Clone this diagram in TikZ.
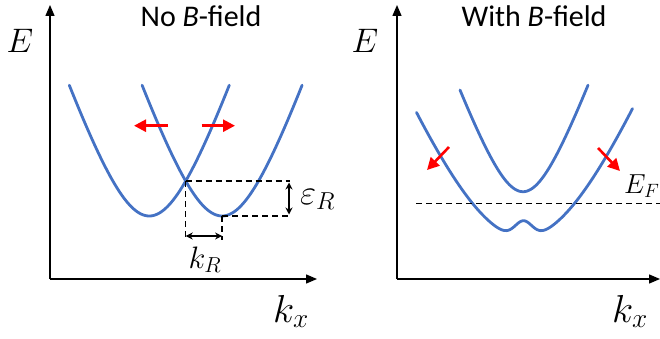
\RequirePackage{fix-cm}
\documentclass[tikz,border=0pt]{standalone}
\usepackage{fontspec}
\newfontfamily\calib{Carlito}
\usetikzlibrary{arrows.meta}
\definecolor{bandblue}{RGB}{68,114,196}
\tikzset{
  band/.style={draw=bandblue, line width=2.8pt, line cap=round},
  axis/.style={draw=black, line width=1.4pt, -{Triangle[length=11pt,width=9pt]}},
  redarr/.style={draw=red, line width=2.6pt, -{Triangle[length=12pt,width=12pt]}},
  dashline/.style={draw=black, line width=1.5pt, dash pattern=on 6pt off 4pt},
  dimarr/.style={draw=black, line width=1.4pt, {Stealth[length=7pt,width=7pt]}-{Stealth[length=7pt,width=7pt]}},
  ttl/.style={inner sep=0pt, anchor=base, font=\calib\fontsize{30}{36}\selectfont},
  lbl/.style={inner sep=0pt, anchor=base},
}
\begin{document}
\begin{tikzpicture}[x=1pt,y=-1pt]
\useasboundingbox (0,0) rectangle (660,339);
% ---------- left panel ----------
\coordinate (lo) at (50,279);
\coordinate (ly) at (50,5);
\coordinate (lx) at (317,279);
\draw[axis] (lo) -- (ly);
\draw[axis] (lo) -- (lx);
\node[ttl] (t1) at (201,26.7) {No \textit{B}-field};
\node[lbl] (E1) at (20,53) {\fontsize{34}{40}\selectfont$E$};
\node[lbl] (kx1) at (291,322) {\fontsize{39}{44}\selectfont$k_x$};
% bands
\draw[band] plot[domain=-80:80, samples=81, smooth] ({149.3+\x},{216-147.5*(sqrt(1+(\x/50)^2)-1)});
\draw[band] plot[domain=-80:80, samples=81, smooth] ({222.1+\x},{216-147.5*(sqrt(1+(\x/50)^2)-1)});
% red arrows
\coordinate (ra1) at (168,125.7);
\coordinate (ra1t) at (134,125.7);
\coordinate (ra2) at (201.7,125.7);
\coordinate (ra2t) at (235,125.7);
\draw[redarr] (ra1) -- (ra1t);
\draw[redarr] (ra2) -- (ra2t);
% dashed guides
\coordinate (cr) at (185.7,181);
\coordinate (vb) at (222.1,216);
\coordinate (cre) at (290,181);
\coordinate (vbe) at (290,216);
\coordinate (crd) at (185.7,240);
\coordinate (vbd) at (222.1,240);
\draw[dashline] (cr) -- (cre);
\draw[dashline] (vb) -- (vbe);
\draw[dashline] (cr) -- (crd);
\draw[dashline] (vb) -- (vbd);
\coordinate (kra) at (185.7,236);
\coordinate (krb) at (222.1,236);
\draw[dimarr] (kra) -- (krb);
\coordinate (era) at (289,182.5);
\coordinate (erb) at (289,214.5);
\draw[dimarr] (era) -- (erb);
\node[lbl] (kR) at (205,268) {\fontsize{31}{36}\selectfont$k_R$};
\node[lbl, anchor=base west] (eR) at (300,204) {\fontsize{35}{40}\selectfont$\varepsilon_R$};
% ---------- right panel ----------
\coordinate (ro) at (397,279);
\coordinate (ry) at (397,5);
\coordinate (rx) at (660,279);
\draw[axis] (ro) -- (ry);
\draw[axis] (ro) -- (rx);
\node[ttl] (t2) at (534,26.7) {With \textit{B}-field};
\node[lbl] (E2) at (365,53) {\fontsize{34}{40}\selectfont$E$};
\node[lbl] (kx2) at (630,322) {\fontsize{39}{44}\selectfont$k_x$};
% bands
\draw[band] plot[domain=-63:65, samples=81, smooth] ({523+\x},{191.7-96*(sqrt(1+(\x/35)^2)-1)});
\draw[band] plot[domain=-107:109, samples=121, smooth] ({523.5+\x},{237-225*(sqrt(1+(\x/90)^2)-1)-16.3*exp(-(\x/12.3)^2)});
% Fermi level
\coordinate (efa) at (416,203.3);
\coordinate (efb) at (660,203.3);
\draw[dashline] (efa) -- (efb);
\node[lbl, anchor=base west] (EF) at (624,193) {\fontsize{27.5}{33}\selectfont$E_F$};
% red arrows
\coordinate (rb1) at (449,147);
\coordinate (rb1t) at (427,170);
\coordinate (rb2) at (598,148);
\coordinate (rb2t) at (620,171);
\draw[redarr] (rb1) -- (rb1t);
\draw[redarr] (rb2) -- (rb2t);
\end{tikzpicture}
\end{document}
